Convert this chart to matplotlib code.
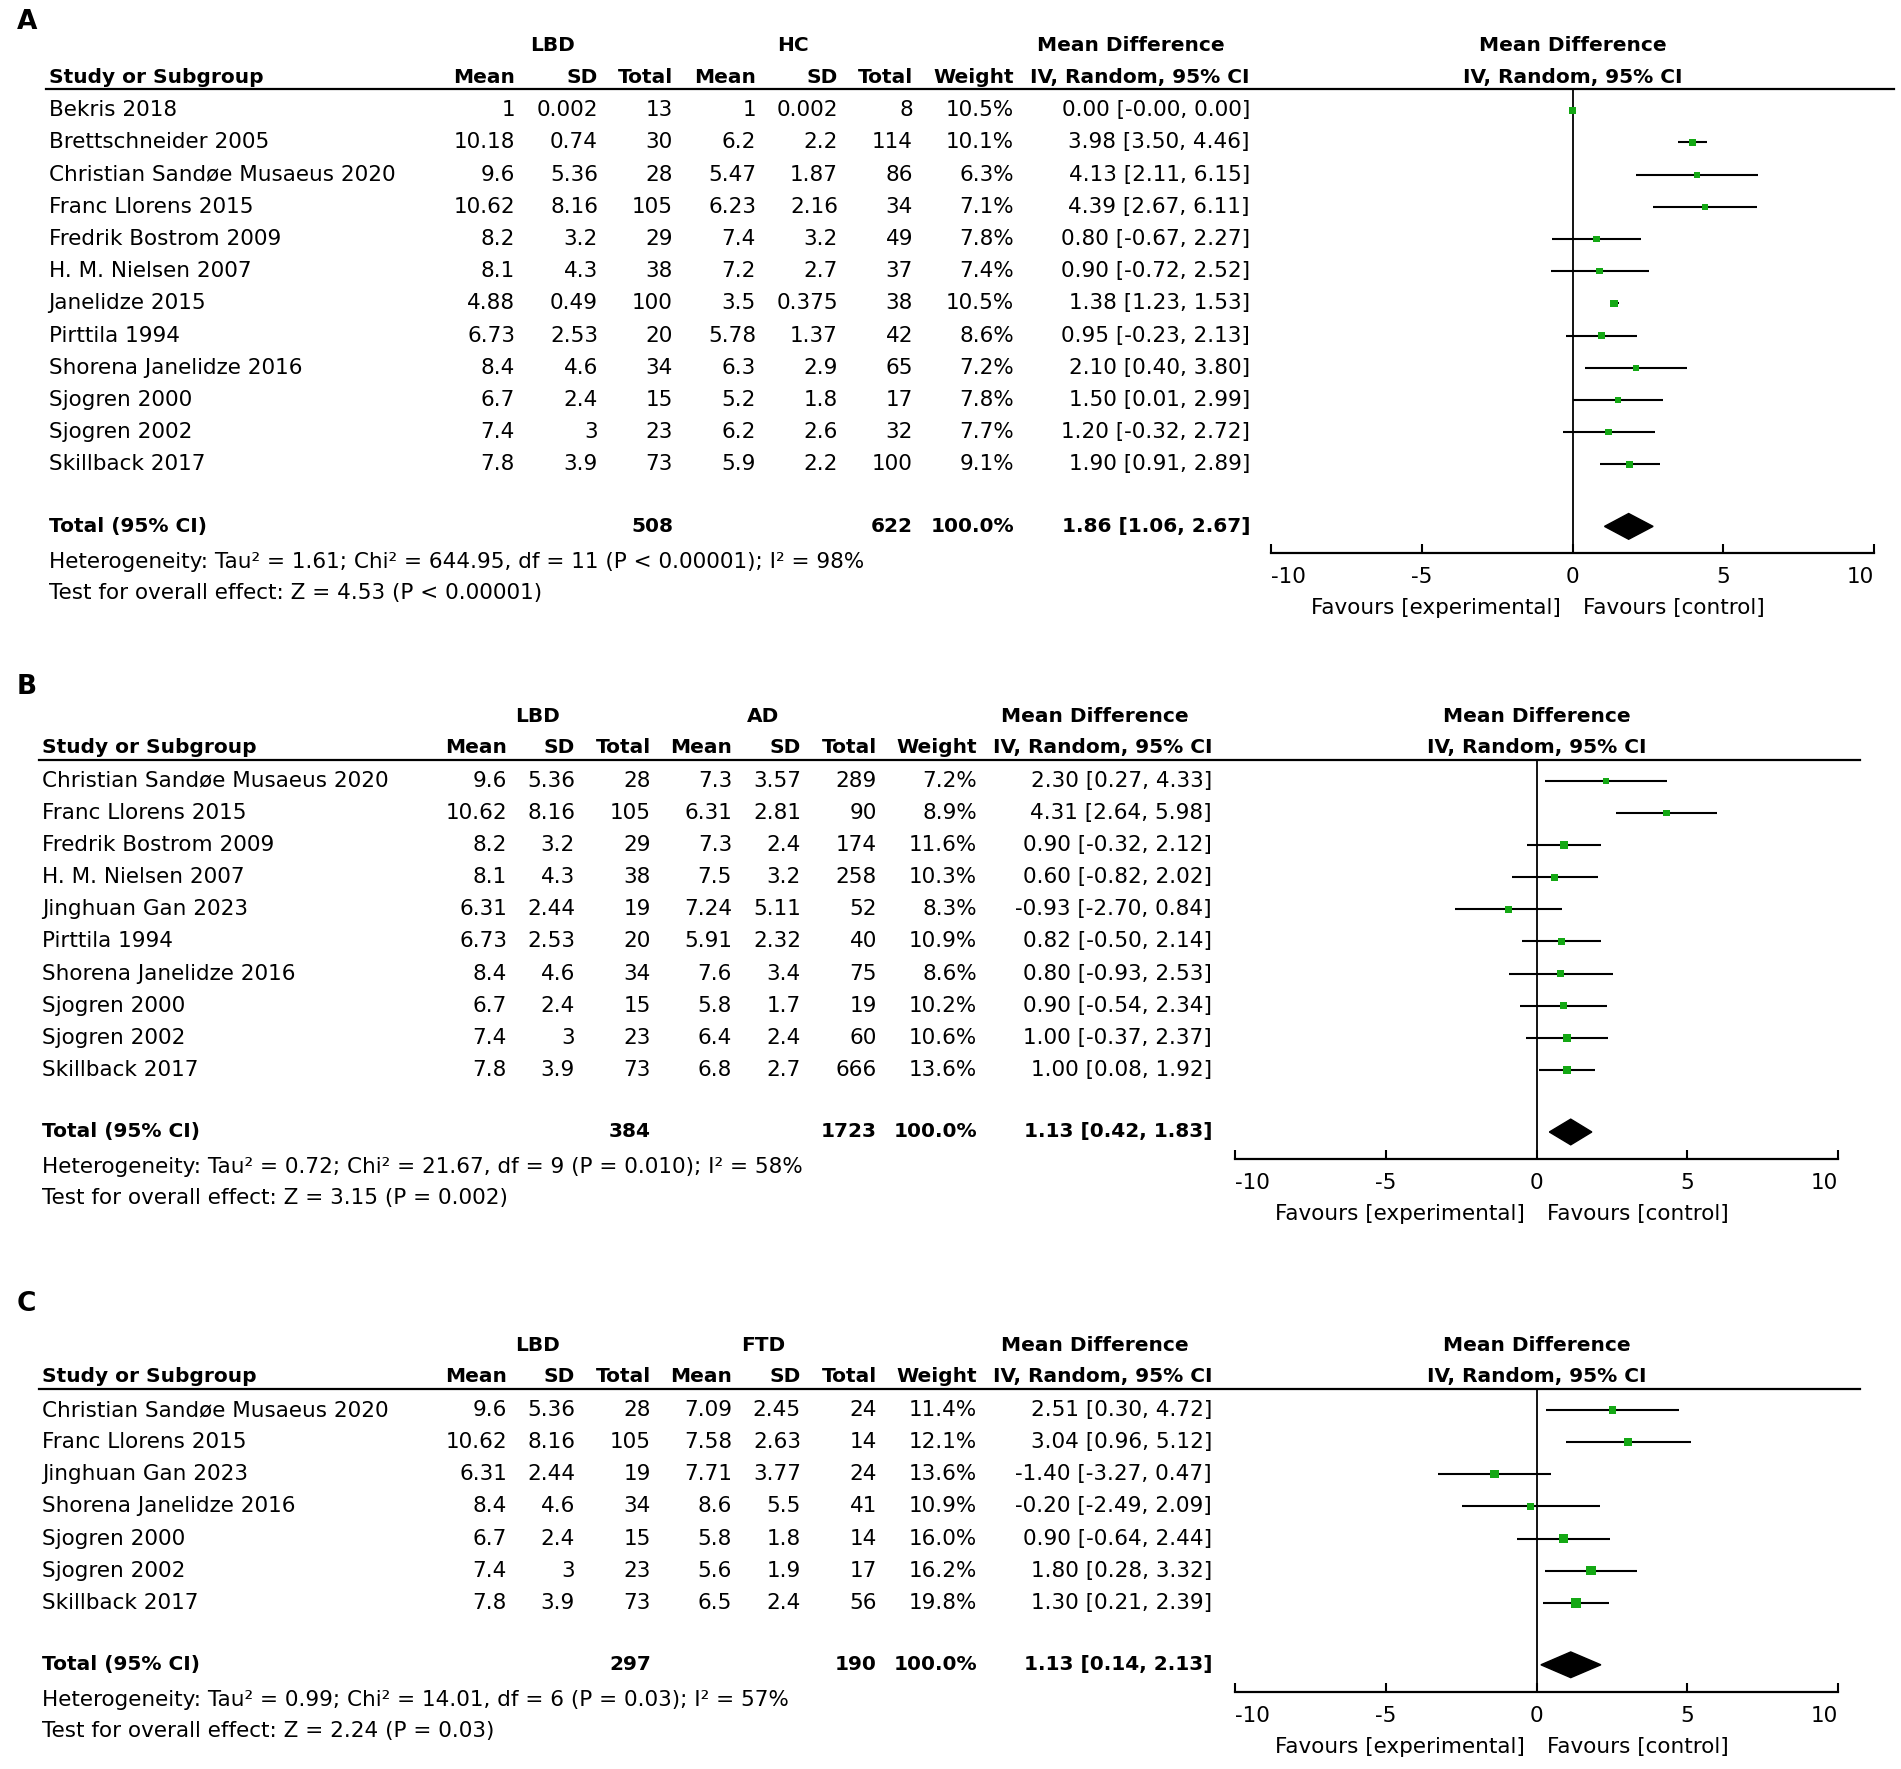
import matplotlib
matplotlib.use('Agg')
import matplotlib.pyplot as plt
import matplotlib.transforms as mtransforms
from matplotlib.lines import Line2D

# ---------------- data ----------------
xtick_vals = [-10, -5, 0, 5, 10]
fav_left = 'Favours [experimental]'
fav_right = 'Favours [control]'

# Panel A : LBD vs HC
A_group2 = 'HC'
A_study = ['Bekris 2018', 'Brettschneider 2005', 'Christian Sandøe Musaeus 2020', 'Franc Llorens 2015',
           'Fredrik Bostrom 2009', 'H. M. Nielsen 2007', 'Janelidze 2015', 'Pirttila 1994',
           'Shorena Janelidze 2016', 'Sjogren 2000', 'Sjogren 2002', 'Skillback 2017']
A_lbd_mean = [1, 10.18, 9.6, 10.62, 8.2, 8.1, 4.88, 6.73, 8.4, 6.7, 7.4, 7.8]
A_lbd_sd = [0.002, 0.74, 5.36, 8.16, 3.2, 4.3, 0.49, 2.53, 4.6, 2.4, 3, 3.9]
A_lbd_n = [13, 30, 28, 105, 29, 38, 100, 20, 34, 15, 23, 73]
A_ctl_mean = [1, 6.2, 5.47, 6.23, 7.4, 7.2, 3.5, 5.78, 6.3, 5.2, 6.2, 5.9]
A_ctl_sd = [0.002, 2.2, 1.87, 2.16, 3.2, 2.7, 0.375, 1.37, 2.9, 1.8, 2.6, 2.2]
A_ctl_n = [8, 114, 86, 34, 49, 37, 38, 42, 65, 17, 32, 100]
A_weight = [10.5, 10.1, 6.3, 7.1, 7.8, 7.4, 10.5, 8.6, 7.2, 7.8, 7.7, 9.1]
A_md = [0.00, 3.98, 4.13, 4.39, 0.80, 0.90, 1.38, 0.95, 2.10, 1.50, 1.20, 1.90]
A_lo = [-0.0, 3.50, 2.11, 2.67, -0.67, -0.72, 1.23, -0.23, 0.40, 0.01, -0.32, 0.91]
A_hi = [0.00, 4.46, 6.15, 6.11, 2.27, 2.52, 1.53, 2.13, 3.80, 2.99, 2.72, 2.89]
A_total = [508, 622, 1.86, 1.06, 2.67]
A_het = 'Heterogeneity: Tau² = 1.61; Chi² = 644.95, df = 11 (P < 0.00001); I² = 98%'
A_test = 'Test for overall effect: Z = 4.53 (P < 0.00001)'

# Panel B : LBD vs AD
B_group2 = 'AD'
B_study = ['Christian Sandøe Musaeus 2020', 'Franc Llorens 2015', 'Fredrik Bostrom 2009', 'H. M. Nielsen 2007',
           'Jinghuan Gan 2023', 'Pirttila 1994', 'Shorena Janelidze 2016', 'Sjogren 2000', 'Sjogren 2002',
           'Skillback 2017']
B_lbd_mean = [9.6, 10.62, 8.2, 8.1, 6.31, 6.73, 8.4, 6.7, 7.4, 7.8]
B_lbd_sd = [5.36, 8.16, 3.2, 4.3, 2.44, 2.53, 4.6, 2.4, 3, 3.9]
B_lbd_n = [28, 105, 29, 38, 19, 20, 34, 15, 23, 73]
B_ctl_mean = [7.3, 6.31, 7.3, 7.5, 7.24, 5.91, 7.6, 5.8, 6.4, 6.8]
B_ctl_sd = [3.57, 2.81, 2.4, 3.2, 5.11, 2.32, 3.4, 1.7, 2.4, 2.7]
B_ctl_n = [289, 90, 174, 258, 52, 40, 75, 19, 60, 666]
B_weight = [7.2, 8.9, 11.6, 10.3, 8.3, 10.9, 8.6, 10.2, 10.6, 13.6]
B_md = [2.30, 4.31, 0.90, 0.60, -0.93, 0.82, 0.80, 0.90, 1.00, 1.00]
B_lo = [0.27, 2.64, -0.32, -0.82, -2.70, -0.50, -0.93, -0.54, -0.37, 0.08]
B_hi = [4.33, 5.98, 2.12, 2.02, 0.84, 2.14, 2.53, 2.34, 2.37, 1.92]
B_total = [384, 1723, 1.13, 0.42, 1.83]
B_het = 'Heterogeneity: Tau² = 0.72; Chi² = 21.67, df = 9 (P = 0.010); I² = 58%'
B_test = 'Test for overall effect: Z = 3.15 (P = 0.002)'

# Panel C : LBD vs FTD
C_group2 = 'FTD'
C_study = ['Christian Sandøe Musaeus 2020', 'Franc Llorens 2015', 'Jinghuan Gan 2023', 'Shorena Janelidze 2016',
           'Sjogren 2000', 'Sjogren 2002', 'Skillback 2017']
C_lbd_mean = [9.6, 10.62, 6.31, 8.4, 6.7, 7.4, 7.8]
C_lbd_sd = [5.36, 8.16, 2.44, 4.6, 2.4, 3, 3.9]
C_lbd_n = [28, 105, 19, 34, 15, 23, 73]
C_ctl_mean = [7.09, 7.58, 7.71, 8.6, 5.8, 5.6, 6.5]
C_ctl_sd = [2.45, 2.63, 3.77, 5.5, 1.8, 1.9, 2.4]
C_ctl_n = [24, 14, 24, 41, 14, 17, 56]
C_weight = [11.4, 12.1, 13.6, 10.9, 16.0, 16.2, 19.8]
C_md = [2.51, 3.04, -1.40, -0.20, 0.90, 1.80, 1.30]
C_lo = [0.30, 0.96, -3.27, -2.49, -0.64, 0.28, 0.21]
C_hi = [4.72, 5.12, 0.47, 2.09, 2.44, 3.32, 2.39]
C_total = [297, 190, 1.13, 0.14, 2.13]
C_het = 'Heterogeneity: Tau² = 0.99; Chi² = 14.01, df = 6 (P = 0.03); I² = 57%'
C_test = 'Test for overall effect: Z = 2.24 (P = 0.03)'

# ---------------- layout ----------------
W, H = 1901, 1769
plt.rcParams['font.family'] = ['DejaVu Sans']
fig = plt.figure(figsize=(W / 100, H / 100), dpi=100)
fig.patch.set_facecolor('white')

FS = 15.5
FSB = 14.5
GREEN = '#14a814'


def fx(px):
    return px / W


def fy(py):
    return 1 - py / H


geoA = dict(label_y=22, row0=110.3, step=32.18, fx0=1270.6, fx1=1874.4,
            study_x=48.5, cols=[515, 598, 673, 756, 838, 913, 1014, 1250],
            grp=[552, 793], mdh=1131, ul=[46, 1894])
geoB = dict(label_y=687, row0=780.8, step=32.13, fx0=1235.4, fx1=1838,
            study_x=42.4, cols=[507, 575, 651, 732, 801, 877, 977, 1212],
            grp=[537, 763], mdh=1095, ul=[39, 1860])
geoC = dict(label_y=1304, row0=1410.0, step=32.13, fx0=1235.4, fx1=1838,
            study_x=42.4, cols=[507, 575, 651, 732, 801, 877, 977, 1212],
            grp=[537, 763], mdh=1095, ul=[39, 1860])


def fmt(v):
    return f'{v:g}'


def panel(label, geo, group2, study, m1, s1, n1, m2, s2, n2, wt, md, lo, hi, total, het, test):
    n = len(study)
    row0, step = geo['row0'], geo['step']
    y_top, y_bot = -0.65, n + 1.77
    top_px = row0 + y_top * step
    bot_px = row0 + y_bot * step
    x0, x1 = geo['fx0'], geo['fx1']
    ax = fig.add_axes([fx(x0), fy(bot_px), (x1 - x0) / W, (bot_px - top_px) / H])
    ax.set_xlim(-10, 10)
    ax.set_ylim(y_bot, y_top)
    ax.patch.set_alpha(0)
    for s in ('top', 'left', 'right'):
        ax.spines[s].set_visible(False)
    ax.spines['bottom'].set_linewidth(1.6)
    ax.set_yticks([])
    ax.set_xticks(xtick_vals)
    ax.set_xticklabels([str(v) for v in xtick_vals], fontsize=FS)
    ax.tick_params(axis='x', direction='in', length=6.5, width=1.5, pad=10)
    ax.set_xticks([xtick_vals[0], xtick_vals[-1]], minor=True)
    ax.tick_params(axis='x', which='minor', direction='out', length=6, width=1.5)
    labs = ax.get_xticklabels()
    labs[0].set_ha('left')
    labs[-1].set_ha('right')

    rows = list(range(n))
    ax.axvline(0, color='black', lw=1.3, zorder=1)
    ax.hlines(rows, lo, hi, color='black', lw=1.5, zorder=2)
    sizes = [((4 + 0.32 * w) * 0.72) ** 2 for w in wt]
    ax.scatter(md, rows, marker='s', s=sizes, color=GREEN, edgecolors='none', zorder=3)
    yt = n + 0.93
    tn1, tn2, tmd, tlo, thi = total
    ax.fill([tlo, tmd, thi, tmd], [yt, yt - 0.4, yt, yt + 0.4], color='black', zorder=3)

    ax.text(0, -2.0, 'Mean Difference', ha='center', va='center', fontsize=FSB, fontweight='bold')
    ax.text(0, -1.03, 'IV, Random, 95% CI', ha='center', va='center', fontsize=FSB, fontweight='bold')
    ax.annotate(fav_left, xy=(0, y_bot), xycoords='data', xytext=(-12 * 0.72, -55 * 0.72),
                textcoords='offset points', ha='right', va='center', fontsize=FS)
    ax.annotate(fav_right, xy=(0, y_bot), xycoords='data', xytext=(10 * 0.72, -55 * 0.72),
                textcoords='offset points', ha='left', va='center', fontsize=FS)

    tr = mtransforms.blended_transform_factory(fig.transFigure, ax.transData)
    ul = Line2D([fx(geo['ul'][0]), fx(geo['ul'][1])], [y_top, y_top], transform=tr, color='black', lw=1.6)
    fig.add_artist(ul)

    fig.text(fx(17), fy(geo['label_y']), label, fontsize=19, fontweight='bold', va='center', ha='left')

    cols = geo['cols']
    bold = dict(fontsize=FSB, fontweight='bold', va='center', transform=tr)
    reg = dict(fontsize=FS, va='center', transform=tr)
    fig.text(fx(geo['grp'][0]), -2.0, 'LBD', ha='center', **bold)
    fig.text(fx(geo['grp'][1]), -2.0, group2, ha='center', **bold)
    fig.text(fx(geo['mdh']), -2.0, 'Mean Difference', ha='center', **bold)
    fig.text(fx(geo['study_x']), -1.03, 'Study or Subgroup', ha='left', **bold)
    for cx, h in zip(cols, ['Mean', 'SD', 'Total', 'Mean', 'SD', 'Total', 'Weight', 'IV, Random, 95% CI']):
        fig.text(fx(cx), -1.03, h, ha='right', **bold)

    for i in range(n):
        fig.text(fx(geo['study_x']), i, study[i], ha='left', **reg)
        vals = [fmt(m1[i]), fmt(s1[i]), str(n1[i]), fmt(m2[i]), fmt(s2[i]), str(n2[i]),
                f'{wt[i]:.1f}%', f'{md[i]:.2f} [{lo[i]:.2f}, {hi[i]:.2f}]']
        for cx, v in zip(cols, vals):
            fig.text(fx(cx), i, v, ha='right', **reg)

    fig.text(fx(geo['study_x']), yt, 'Total (95% CI)', ha='left', **bold)
    fig.text(fx(cols[2]), yt, str(tn1), ha='right', **bold)
    fig.text(fx(cols[5]), yt, str(tn2), ha='right', **bold)
    fig.text(fx(cols[6]), yt, '100.0%', ha='right', **bold)
    fig.text(fx(cols[7]), yt, f'{tmd:.2f} [{tlo:.2f}, {thi:.2f}]', ha='right', **bold)
    fig.text(fx(geo['study_x']), yt + 1.1, het, ha='left', **reg)
    fig.text(fx(geo['study_x']), yt + 2.07, test, ha='left', **reg)


panel('A', geoA, A_group2, A_study, A_lbd_mean, A_lbd_sd, A_lbd_n, A_ctl_mean, A_ctl_sd, A_ctl_n,
      A_weight, A_md, A_lo, A_hi, A_total, A_het, A_test)
panel('B', geoB, B_group2, B_study, B_lbd_mean, B_lbd_sd, B_lbd_n, B_ctl_mean, B_ctl_sd, B_ctl_n,
      B_weight, B_md, B_lo, B_hi, B_total, B_het, B_test)
panel('C', geoC, C_group2, C_study, C_lbd_mean, C_lbd_sd, C_lbd_n, C_ctl_mean, C_ctl_sd, C_ctl_n,
      C_weight, C_md, C_lo, C_hi, C_total, C_het, C_test)

fig.savefig('out.png', dpi=100, facecolor='white')
